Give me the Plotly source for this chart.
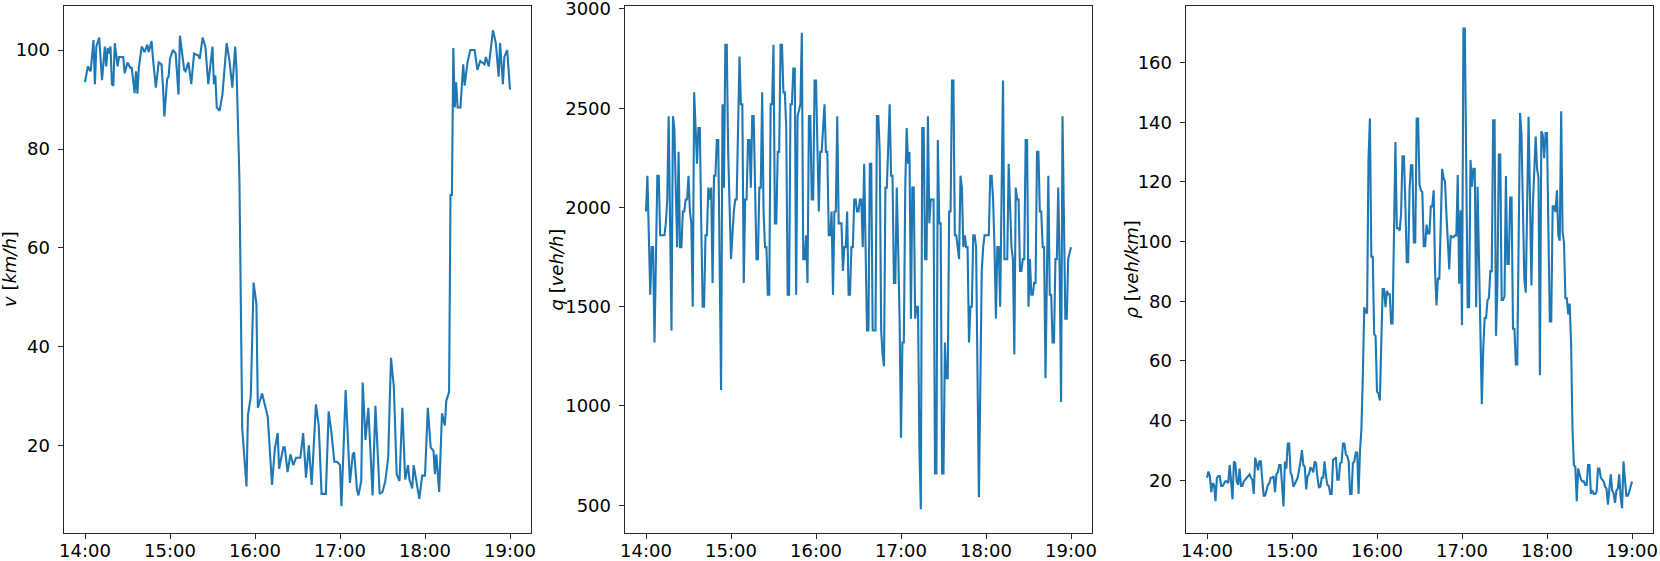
import pandas as pd
import plotly.graph_objects as go
from plotly.subplots import make_subplots

v_min = [0, 2, 4, 6, 7, 8, 10, 12, 14, 15,
         16, 17, 18, 19, 20, 21, 23, 24, 27, 28,
         30, 32, 33, 35, 36, 37, 38, 40, 42, 44,
         45, 47, 48, 50, 52, 54, 55, 56, 58, 59,
         60, 62, 64, 66, 67, 70, 71, 73, 75, 77,
         80, 81, 83, 85, 87, 90, 91, 92, 93, 95,
         97, 100, 102, 104, 106, 107, 109, 111, 114, 115,
         117, 119, 121, 122, 125, 127, 129, 132, 134, 136,
         137, 140, 141, 143, 145, 147, 149, 152, 154, 156,
         158, 160, 163, 165, 167, 170, 172, 174, 176, 178,
         180, 181, 184, 187, 189, 190, 192, 193, 195, 196,
         198, 200, 202, 203, 205, 207, 208, 210, 212, 214,
         216, 218, 220, 222, 224, 226, 228, 229, 231, 232,
         234, 236, 238, 240, 242, 244, 246, 247, 248, 250,
         252, 254, 255, 257, 258, 259, 260, 261, 262, 263,
         265, 267, 268, 270, 272, 275, 277, 279, 282, 283,
         285, 288, 290, 292, 293, 295, 296, 298, 300]
v_kmh = [93.5, 96.7, 95.7, 102.0, 93.1, 100.7, 102.5, 93.9, 100.7, 96.7,
         100.4, 99.3, 100.7, 93.1, 92.8, 101.4, 96.7, 98.6, 98.6, 95.3,
         97.5, 96.4, 96.4, 91.3, 95.7, 91.2, 96.4, 100.7, 99.6, 101.1,
         99.6, 101.8, 98.2, 92.4, 97.5, 97.1, 92.8, 86.6, 94.2, 94.6,
         98.2, 100.0, 99.3, 91.0, 102.9, 96.0, 95.7, 97.5, 93.1, 99.3,
         98.9, 98.2, 102.5, 100.7, 93.1, 100.7, 93.1, 94.9, 88.4, 87.7,
         91.0, 101.4, 97.8, 92.4, 100.7, 95.7, 74.0, 23.4, 11.8, 26.2,
         29.9, 53.0, 48.7, 27.7, 30.6, 28.1, 25.9, 12.1, 19.4, 22.6,
         15.4, 19.7, 19.7, 14.7, 18.3, 16.1, 17.6, 17.6, 22.6, 13.6,
         20.1, 12.1, 28.4, 24.1, 10.3, 10.3, 27.0, 22.6, 16.8, 16.8,
         16.1, 7.8, 31.3, 12.5, 18.3, 18.7, 11.1, 10.0, 12.9, 32.8,
         21.2, 27.7, 15.4, 10.0, 28.1, 15.4, 10.3, 10.7, 12.9, 17.6,
         37.8, 32.0, 14.3, 12.9, 27.7, 13.2, 16.1, 13.2, 11.4, 16.1,
         12.5, 9.3, 14.0, 14.0, 27.7, 19.7, 19.0, 14.3, 18.3, 10.7,
         26.6, 24.1, 29.1, 30.9, 70.7, 70.7, 100.4, 88.4, 93.5, 88.4,
         88.4, 97.1, 92.8, 97.5, 100.0, 100.0, 96.0, 97.8, 97.1, 98.6,
         96.7, 104.0, 101.4, 94.6, 101.4, 93.1, 98.6, 100.0, 92.0]

q_min = [0, 1, 3, 4, 5, 6, 8, 9, 10, 13,
         14, 15, 16, 18, 19, 20, 22, 23, 24, 25,
         26, 27, 28, 29, 30, 31, 32, 33, 34, 36,
         37, 38, 39, 40, 41, 42, 43, 44, 45, 46,
         47, 48, 49, 50, 51, 53, 54, 55, 56, 57,
         58, 60, 62, 63, 64, 66, 67, 68, 69, 70,
         71, 72, 73, 74, 75, 76, 78, 79, 80, 81,
         82, 83, 84, 85, 86, 87, 88, 89, 90, 91,
         92, 93, 94, 95, 96, 97, 98, 99, 100, 101,
         102, 103, 104, 105, 106, 107, 109, 110, 111, 112,
         113, 114, 115, 116, 117, 118, 119, 120, 122, 123,
         124, 125, 126, 127, 128, 129, 130, 131, 132, 133,
         134, 135, 136, 138, 139, 140, 141, 142, 143, 144,
         145, 146, 147, 148, 149, 150, 151, 152, 153, 154,
         155, 156, 157, 158, 159, 160, 161, 162, 163, 164,
         165, 166, 167, 168, 169, 170, 172, 173, 174, 175,
         176, 177, 178, 179, 180, 181, 182, 183, 184, 185,
         186, 187, 188, 189, 190, 191, 192, 193, 194, 195,
         196, 197, 198, 199, 200, 201, 202, 203, 204, 205,
         206, 207, 208, 209, 210, 211, 212, 213, 214, 215,
         216, 217, 218, 219, 220, 221, 222, 223, 224, 225,
         226, 227, 228, 229, 230, 231, 232, 233, 235, 237,
         238, 239, 242, 243, 244, 245, 246, 247, 248, 249,
         250, 252, 253, 255, 256, 257, 258, 259, 260, 261,
         262, 263, 264, 265, 266, 267, 268, 269, 270, 271,
         272, 273, 274, 275, 276, 277, 278, 279, 280, 281,
         282, 284, 285, 286, 287, 288, 289, 290, 291, 292,
         293, 294, 295, 296, 297, 298, 300]
q_vehh = [1980, 2160, 1560, 1800, 1800, 1320, 2160, 2160, 1860, 1860,
          1920, 2040, 2460, 1380, 2460, 2400, 1800, 2280, 1800, 1800,
          1980, 1980, 2040, 2040, 2160, 1980, 1920, 1500, 2580, 2220,
          2400, 2400, 1920, 1500, 1500, 1860, 1860, 2100, 2040, 2100,
          1620, 2160, 2160, 2340, 2340, 1080, 2520, 2100, 2820, 2820,
          2280, 1740, 1980, 2040, 2040, 2760, 2520, 2520, 1620, 2040,
          2040, 2340, 2340, 2100, 2460, 2460, 1740, 1740, 2100, 2100,
          2580, 1980, 1800, 1800, 1560, 1560, 2520, 2520, 2820, 1920,
          1920, 2280, 2280, 2820, 2820, 2580, 2580, 2400, 1560, 1560,
          2520, 2520, 2700, 2700, 1560, 2460, 2520, 2880, 1740, 1740,
          1860, 1620, 2460, 2460, 2040, 2040, 2640, 2640, 1980, 2280,
          2280, 2400, 2520, 2280, 2280, 1860, 1860, 1980, 1560, 1980,
          1980, 2460, 1920, 1920, 1680, 1800, 1800, 1980, 1560, 1560,
          1800, 1800, 2040, 2040, 1980, 1980, 2040, 2040, 1800, 2220,
          1740, 1380, 1380, 2220, 2220, 1380, 1380, 1380, 2460, 2460,
          2280, 1380, 1260, 1200, 2100, 2100, 2520, 2160, 2160, 1620,
          1620, 2100, 1800, 1440, 840, 1320, 1320, 2100, 2400, 2220,
          2280, 1440, 2100, 2100, 1440, 1500, 1500, 780, 480, 2400,
          2400, 1740, 1740, 2460, 1920, 2040, 2040, 2040, 660, 660,
          2340, 1920, 1920, 660, 660, 1320, 1140, 1140, 1980, 1980,
          2640, 2640, 1860, 1860, 1800, 1740, 2160, 2100, 1800, 1860,
          1800, 1800, 1320, 1500, 1500, 1860, 1860, 1800, 540, 1680,
          1800, 1860, 1860, 2160, 2160, 2040, 1800, 1440, 1800, 1800,
          1500, 2640, 1740, 1740, 2220, 2040, 1800, 1740, 1260, 2100,
          2040, 2040, 1680, 1680, 1740, 1740, 2340, 2340, 1500, 1740,
          1560, 1560, 1620, 1620, 2280, 2280, 1980, 1980, 1800, 1800,
          1140, 2160, 1560, 1560, 1320, 1320, 1740, 1740, 2100, 1680,
          1020, 2460, 1920, 1440, 1440, 1740, 1800]

rho_min = [0, 1, 2, 3, 4, 5, 6, 7, 8, 9,
           10, 11, 13, 14, 15, 16, 17, 18, 19, 20,
           21, 22, 23, 24, 25, 26, 27, 29, 30, 31,
           32, 33, 34, 35, 36, 37, 38, 39, 40, 41,
           43, 44, 45, 46, 47, 48, 49, 50, 51, 52,
           53, 54, 55, 56, 57, 58, 59, 60, 61, 62,
           63, 64, 66, 67, 68, 69, 70, 71, 72, 73,
           74, 75, 76, 77, 78, 79, 80, 81, 82, 83,
           84, 85, 86, 87, 88, 89, 90, 91, 92, 93,
           94, 95, 96, 97, 98, 99, 100, 101, 102, 103,
           104, 105, 106, 107, 108, 109, 110, 111, 112, 113,
           114, 115, 116, 117, 118, 119, 120, 121, 122, 123,
           124, 125, 126, 127, 128, 129, 130, 131, 132, 133,
           134, 135, 136, 137, 138, 139, 140, 141, 142, 143,
           144, 145, 146, 147, 148, 149, 150, 151, 152, 153,
           154, 155, 156, 157, 158, 159, 160, 161, 162, 163,
           164, 165, 166, 167, 168, 169, 170, 171, 172, 173,
           174, 175, 176, 177, 178, 179, 180, 181, 182, 183,
           184, 185, 186, 187, 188, 189, 190, 191, 192, 193,
           194, 195, 196, 197, 198, 199, 200, 201, 202, 203,
           204, 205, 206, 207, 208, 209, 210, 211, 212, 213,
           214, 215, 216, 217, 218, 219, 220, 221, 222, 223,
           224, 225, 226, 227, 228, 229, 230, 231, 232, 233,
           234, 235, 236, 237, 238, 239, 240, 241, 242, 243,
           244, 245, 246, 247, 248, 249, 250, 251, 252, 253,
           254, 255, 256, 257, 258, 259, 260, 261, 262, 263,
           264, 265, 266, 267, 268, 269, 270, 271, 272, 273,
           274, 275, 276, 277, 278, 279, 280, 281, 282, 283,
           284, 285, 286, 287, 288, 289, 290, 291, 292, 293,
           294, 295, 296, 297, 298, 300]
rho_vehkm = [20.8, 22.9, 21.4, 16.0, 19.0, 18.4, 13.0, 20.8, 21.4, 21.4,
             18.1, 18.1, 19.6, 19.6, 19.0, 25.1, 19.6, 13.6, 26.3, 25.7,
             19.6, 18.4, 23.9, 18.1, 18.1, 19.6, 20.2, 21.4, 22.0, 20.8,
             20.2, 15.4, 27.5, 25.7, 23.3, 26.3, 26.3, 20.2, 14.8, 14.8,
             18.4, 19.0, 20.8, 20.8, 21.4, 16.0, 22.0, 22.6, 25.1, 25.1,
             17.2, 11.2, 26.3, 23.9, 32.3, 32.3, 22.6, 21.4, 17.8, 19.0,
             20.2, 20.8, 26.3, 30.1, 25.1, 24.5, 16.9, 21.4, 22.0, 24.1,
             23.9, 22.6, 26.3, 25.7, 20.8, 17.6, 17.8, 20.8, 20.8, 26.3,
             21.4, 18.4, 18.1, 15.4, 15.4, 26.9, 27.1, 27.7, 20.2, 20.2,
             25.7, 26.0, 32.3, 32.3, 28.7, 28.1, 26.3, 15.4, 15.4, 25.7,
             26.3, 29.3, 29.3, 15.4, 29.9, 37.1, 55.2, 78.0, 76.2, 76.2,
             127.4, 141.3, 94.9, 94.9, 69.0, 68.4, 49.7, 49.1, 46.7, 66.0,
             84.1, 84.1, 78.0, 83.5, 82.3, 82.3, 72.6, 72.6, 104.5, 133.4,
             104.5, 104.5, 103.6, 109.3, 128.6, 128.6, 113.0, 93.1, 93.1, 117.8,
             125.6, 125.6, 99.7, 99.7, 141.3, 141.3, 119.0, 117.2, 116.6, 98.5,
             98.5, 105.7, 102.7, 102.7, 111.8, 111.8, 117.2, 90.1, 78.6, 87.6,
             87.6, 103.3, 124.4, 121.4, 120.2, 109.3, 97.3, 90.7, 102.1, 101.5,
             101.5, 102.1, 102.1, 122.3, 85.9, 110.5, 72.0, 171.4, 171.4, 126.2,
             78.0, 78.0, 127.4, 118.4, 124.4, 124.4, 78.0, 118.4, 94.9, 66.0,
             45.5, 64.2, 74.4, 74.4, 80.4, 81.0, 90.1, 90.1, 140.7, 140.7,
             68.4, 85.3, 129.2, 129.2, 80.4, 80.4, 81.6, 122.0, 92.5, 92.5,
             114.8, 114.8, 70.8, 70.8, 58.8, 58.8, 106.9, 143.1, 135.8, 109.3,
             87.6, 82.9, 117.8, 141.9, 114.2, 85.3, 111.8, 125.0, 135.2, 124.4,
             121.4, 55.2, 137.0, 135.8, 128.0, 136.4, 136.4, 103.3, 73.2, 73.2,
             111.8, 111.8, 109.9, 117.2, 102.1, 100.3, 143.7, 103.3, 99.7, 81.0,
             81.0, 75.6, 79.2, 66.0, 37.1, 25.1, 24.5, 13.0, 23.9, 22.0,
             20.2, 19.6, 19.6, 18.4, 18.4, 25.1, 25.1, 15.4, 16.6, 15.4,
             15.4, 16.0, 23.9, 23.9, 20.8, 20.2, 19.6, 17.8, 17.2, 11.8,
             17.8, 22.0, 16.6, 15.7, 12.4, 16.6, 17.2, 22.0, 14.2, 10.6,
             26.3, 19.0, 14.8, 14.8, 16.0, 19.6]

hour_ticks = ["14:00", "15:00", "16:00", "17:00", "18:00", "19:00"]

DAY = "2021-01-01 "
start = pd.Timestamp(DAY + "14:00")


def to_time(minutes):
    return [start + pd.Timedelta(minutes=m) for m in minutes]


FONT = "DejaVu Sans"
LINE = "#1f77b4"
SPINE = "#262626"

fig = make_subplots(rows=1, cols=3)

panels = [
    (v_min, v_kmh, [2.4, 108.9], 20, "<i>v</i> [<i>km/h</i>]", 9.5),
    (q_min, q_vehh, [360, 3015], 500, "<i>q</i> [<i>veh/h</i>]", 556),
    (rho_min, rho_vehkm, [2.3, 179.0], 20, "<i>ρ</i> [<i>veh/km</i>]", 1131),
]
# pixel spans of the three axes boxes
left_px = [63.75, 624.75, 1185.75]
width_px = 467.5
W, H = 1660, 561

tickvals = [pd.Timestamp(DAY + t) for t in hour_ticks]
x_range = [start - pd.Timedelta(minutes=15), start + pd.Timedelta(minutes=315)]

for i, (mins, vals, yr, dt, label, lab_x) in enumerate(panels):
    col = i + 1
    fig.add_trace(
        go.Scatter(
            x=to_time(mins),
            y=vals,
            mode="lines",
            line=dict(color=LINE, width=2.1),
            showlegend=False,
        ),
        row=1,
        col=col,
    )
    fig.update_xaxes(
        domain=[left_px[i] / W, (left_px[i] + width_px) / W],
        range=x_range,
        tickvals=tickvals,
        ticktext=hour_ticks,
        row=1,
        col=col,
    )
    fig.update_yaxes(range=yr, dtick=dt, tick0=0, row=1, col=col)
    fig.add_annotation(
        text=label,
        x=lab_x / W,
        y=0.5,
        xref="paper",
        yref="paper",
        xanchor="center",
        yanchor="middle",
        textangle=-90,
        showarrow=False,
        font=dict(family=FONT, size=18, color="black"),
    )

axis_style = dict(
    showgrid=False,
    zeroline=False,
    showline=True,
    mirror=True,
    linecolor=SPINE,
    linewidth=1.3,
    ticks="outside",
    ticklen=5,
    tickwidth=1.2,
    tickcolor=SPINE,
    automargin=False,
    ticklabeloverflow="allow",
    tickfont=dict(family=FONT, size=18, color="black"),
)
fig.update_xaxes(ticklabelstandoff=-4, **axis_style)
fig.update_yaxes(ticklabelstandoff=4, **axis_style)

fig.update_layout(
    width=W,
    height=H,
    margin=dict(l=0, r=0, t=6, b=28),
    plot_bgcolor="white",
    paper_bgcolor="white",
    font=dict(family=FONT, size=18, color="black"),
)

# the page's default body margin would push the figure off its box
fig.write_html(
    "out.html",
    config={"displayModeBar": False},
    post_script="document.body.style.margin = '0';",
)
